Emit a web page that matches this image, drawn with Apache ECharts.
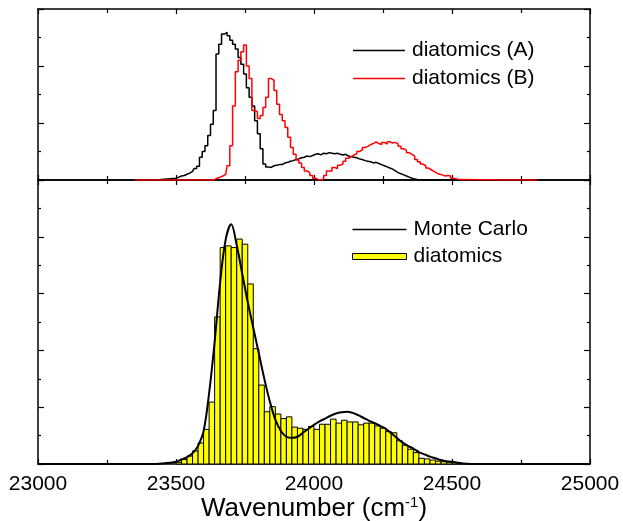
<!DOCTYPE html>
<html>
<head>
<meta charset="utf-8">
<script src="https://cdn.jsdelivr.net/npm/echarts@6/dist/echarts.min.js"></script>
<style>
html,body{margin:0;padding:0;background:#fff;}
#chart{width:623px;height:521px;}
</style>
</head>
<body>
<div id="chart"></div>
<script>
// ---------- DATA ----------
// x-axis tick labels
const xTicks = [23000, 23500, 24000, 24500, 25000];

// Top panel: histograms with 10 cm-1 bins, bins start at 23500
const topBinStart = 23500;
const topBinWidth = 10;
const topRangeStart = 23350;
const topRangeEnd = 24810;
// diatomics (A) — black
const diatomicsA = [
  0.03, 0.05, 0.07, 0.08, 0.10, 0.12, 0.15, 0.20, 0.24, 0.40,
  0.50, 0.60, 0.78, 0.98, 1.22, 2.21, 2.38, 2.56, 2.59, 2.53,
  2.45, 2.38, 2.30, 2.15, 2.03, 1.86, 1.62, 1.45, 1.30, 1.04,
  0.81, 0.55, 0.28, 0.23, 0.22, 0.25, 0.26, 0.27, 0.27, 0.30,
  0.31, 0.33, 0.34, 0.36, 0.37, 0.39, 0.40, 0.42, 0.41, 0.43,
  0.45, 0.46, 0.44, 0.47, 0.46, 0.48, 0.47, 0.46, 0.47, 0.45,
  0.44, 0.45, 0.42, 0.41, 0.40, 0.39, 0.37, 0.36, 0.34, 0.33,
  0.32, 0.30, 0.31, 0.29, 0.27, 0.25, 0.23, 0.21, 0.19, 0.16,
  0.13, 0.11, 0.09, 0.07, 0.05, 0.03, 0.02, 0.01, 0.00
];
// diatomics (B) — red
const diatomicsB = [
  0.00, 0.00, 0.00, 0.00, 0.00, 0.00, 0.00, 0.00, 0.00, 0.00,
  0.00, 0.00, 0.00, 0.00, 0.01, 0.03, 0.05, 0.07, 0.10, 0.25,
  0.60, 1.30, 1.90, 2.10, 2.25, 2.37, 2.00, 1.78, 1.22, 1.20,
  1.08, 1.13, 1.27, 1.45, 1.78, 1.75, 1.57, 1.33, 1.15, 1.04,
  0.92, 0.75, 0.57, 0.45, 0.35, 0.30, 0.22, 0.16, 0.13, 0.08,
  0.03, 0.01, 0.00, 0.02, 0.08, 0.16, 0.16, 0.22, 0.20, 0.26,
  0.28, 0.33, 0.38, 0.41, 0.44, 0.46, 0.50, 0.53, 0.57, 0.59,
  0.62, 0.64, 0.67, 0.64, 0.62, 0.66, 0.63, 0.67, 0.65, 0.66,
  0.63, 0.59, 0.55, 0.52, 0.48, 0.45, 0.42, 0.36, 0.32, 0.28,
  0.25, 0.21, 0.18, 0.15, 0.12, 0.10, 0.09, 0.07, 0.08, 0.07,
  0.03, 0.02, 0.01, 0.01, 0.00
];

// Bottom panel: diatomics histogram, 20 cm-1 bins, first bin centre 23510
const barStart = 23510;
const barWidth = 20;
const diatomicsBars = [
  0.03, 0.08, 0.14, 0.23, 0.37, 0.61, 1.09, 2.59, 3.81, 3.84,
  3.81, 3.96, 3.87, 3.17, 2.03, 1.39, 0.92, 1.01, 0.88, 0.80,
  0.83, 0.65, 0.63, 0.61, 0.66, 0.61, 0.70, 0.70, 0.79, 0.72,
  0.77, 0.74, 0.74, 0.69, 0.72, 0.72, 0.67, 0.63, 0.57, 0.55,
  0.41, 0.33, 0.26, 0.20, 0.10, 0.09, 0.07, 0.05, 0.04, 0.03,
  0.02, 0.01
];

// Monte Carlo curve
const mcX = [23000, 23400, 23450, 23500, 23520, 23540, 23560, 23580, 23600, 23620,
  23640, 23660, 23680, 23700, 23720, 23740, 23760, 23780, 23800, 23820,
  23840, 23860, 23880, 23900, 23920, 23940, 23960, 23980, 24000, 24020,
  24040, 24060, 24080, 24100, 24120, 24140, 24160, 24180, 24200, 24220,
  24240, 24260, 24280, 24300, 24320, 24340, 24360, 24380, 24400, 24420,
  24440, 24460, 24480, 24500, 24540, 24600, 25000];
const mcY = [0, 0, 0.01, 0.04, 0.08, 0.12, 0.19, 0.32, 0.58, 1.25,
  2.15, 3.20, 3.95, 4.22, 3.85, 3.35, 2.85, 2.40, 1.95, 1.50,
  1.10, 0.78, 0.58, 0.48, 0.46, 0.48, 0.55, 0.62, 0.69, 0.75,
  0.80, 0.85, 0.89, 0.91, 0.92, 0.90, 0.86, 0.81, 0.76, 0.72,
  0.67, 0.62, 0.54, 0.46, 0.38, 0.32, 0.27, 0.21, 0.17, 0.13,
  0.10, 0.07, 0.05, 0.04, 0.01, 0, 0];

// ---------- BUILD ----------
function histPairs(vals) {
  const out = [[topRangeStart, 0]];
  vals.forEach((v, i) => out.push([topBinStart + i * topBinWidth, v]));
  out.push([topRangeEnd, 0]);
  return out;
}
const aData = histPairs(diatomicsA);
const bData = histPairs(diatomicsB);
const barData = diatomicsBars.map((v, i) => [barStart + i * barWidth, v]);
const mcData = mcX.map((x, i) => [x, mcY[i]]);

const FONT = 'Liberation Sans, Arial, sans-serif';
const axisLine = { show: true, onZero: false, lineStyle: { color: '#000', width: 1.5 } };
const LINE_ICON = 'path://M0,0 H52 V1.6 H0 Z';

function xAx(grid, pos, labels) {
  return {
    type: 'value', gridIndex: grid, position: pos, min: 23000, max: 25000, interval: 500,
    axisLine: axisLine,
    axisTick: { show: true, inside: true, length: 5, lineStyle: { color: '#000', width: 1.2 } },
    minorTick: { show: true, splitNumber: 2, length: 4, lineStyle: { color: '#000', width: 1.2 } },
    axisLabel: labels ? {
      show: true, margin: 10, color: '#000', fontSize: 21, fontFamily: FONT,
      formatter: v => (xTicks.indexOf(v) >= 0 ? String(v) : '')
    } : { show: false },
    splitLine: { show: false }
  };
}
function yAx(grid, pos, max) {
  return {
    type: 'value', gridIndex: grid, position: pos, min: 0, max: max, interval: 1,
    axisLine: axisLine,
    axisTick: { show: true, inside: true, length: 6, lineStyle: { color: '#000', width: 1.2 } },
    minorTick: { show: true, splitNumber: 2, length: 3, lineStyle: { color: '#000', width: 1.2 } },
    axisLabel: { show: false },
    splitLine: { show: false }
  };
}

const xAxes = [xAx(0, 'bottom', false), xAx(0, 'top', false), xAx(1, 'bottom', true), xAx(1, 'top', false)];
xAxes[2].name = 'Wavenumber (cm{sup|-1})';
xAxes[2].nameLocation = 'middle';
xAxes[2].nameGap = 31;
xAxes[2].nameMoveOverlap = false;
xAxes[2].nameTextStyle = {
  color: '#000', fontSize: 26, fontFamily: FONT,
  rich: { sup: { fontSize: 15, verticalAlign: 'top', padding: [0, 0, 12, 0], fontFamily: FONT, color: '#000' } }
};

const legendText = { fontSize: 21, lineHeight: 21, color: '#000', fontFamily: FONT, padding: [0, 0, 0, 2] };

const option = {
  animation: false,
  backgroundColor: '#fff',
  textStyle: { fontFamily: FONT },
  grid: [
    { left: 38, right: 33, top: 9, height: 171, containLabel: false, outerBoundsMode: 'none' },
    { left: 38, right: 33, top: 180, height: 284, containLabel: false, outerBoundsMode: 'none' }
  ],
  xAxis: xAxes,
  yAxis: [yAx(0, 'left', 3), yAx(0, 'right', 3), yAx(1, 'left', 5), yAx(1, 'right', 5)],
  legend: [
    {
      data: [
        { name: 'diatomics (A)', icon: LINE_ICON, itemStyle: { color: '#000', borderWidth: 0 } },
        { name: 'diatomics (B)', icon: LINE_ICON, itemStyle: { color: '#ff0000', borderWidth: 0 } }
      ],
      orient: 'vertical', left: 348, top: 35, itemWidth: 52, itemHeight: 6, itemGap: 7,
      textStyle: legendText, selectedMode: false
    },
    {
      data: [
        { name: 'Monte Carlo', icon: LINE_ICON, itemStyle: { color: '#000', borderWidth: 0 } },
        { name: 'diatomics', icon: 'rect', itemStyle: { color: '#ffff00', borderColor: '#000', borderWidth: 1 } }
      ],
      orient: 'vertical', left: 347, top: 214, itemWidth: 54, itemHeight: 6, itemGap: 6,
      textStyle: legendText, selectedMode: false
    }
  ],
  series: [
    {
      name: 'diatomics (A)', type: 'line', xAxisIndex: 0, yAxisIndex: 0, step: 'middle',
      data: aData, showSymbol: false, symbol: 'none', color: '#000',
      lineStyle: { color: '#000', width: 1.5 }, z: 3
    },
    {
      name: 'diatomics (B)', type: 'line', xAxisIndex: 0, yAxisIndex: 0, step: 'middle',
      data: bData, showSymbol: false, symbol: 'none', color: '#ff0000',
      lineStyle: { color: '#ff0000', width: 1.5 }, z: 4
    },
    {
      name: 'diatomics', type: 'custom', xAxisIndex: 2, yAxisIndex: 2,
      data: barData,
      itemStyle: { color: '#ffff00', borderColor: '#000', borderWidth: 1 },
      renderItem: function (params, api) {
        const x = api.value(0), y = api.value(1);
        const p0 = api.coord([x - barWidth / 2, y]);
        const p1 = api.coord([x + barWidth / 2, 0]);
        return {
          type: 'rect',
          shape: { x: p0[0], y: p0[1], width: p1[0] - p0[0], height: p1[1] - p0[1] },
          style: { fill: '#ffff00', stroke: '#000', lineWidth: 1 }
        };
      },
      z: 2
    },
    {
      name: 'Monte Carlo', type: 'line', xAxisIndex: 2, yAxisIndex: 2, smooth: 0.35,
      data: mcData, showSymbol: false, symbol: 'none', color: '#000',
      lineStyle: { color: '#000', width: 2 }, z: 5
    }
  ]
};

const chart = echarts.init(document.getElementById('chart'), null, { renderer: 'canvas' });
chart.setOption(option);
</script>
</body>
</html>
